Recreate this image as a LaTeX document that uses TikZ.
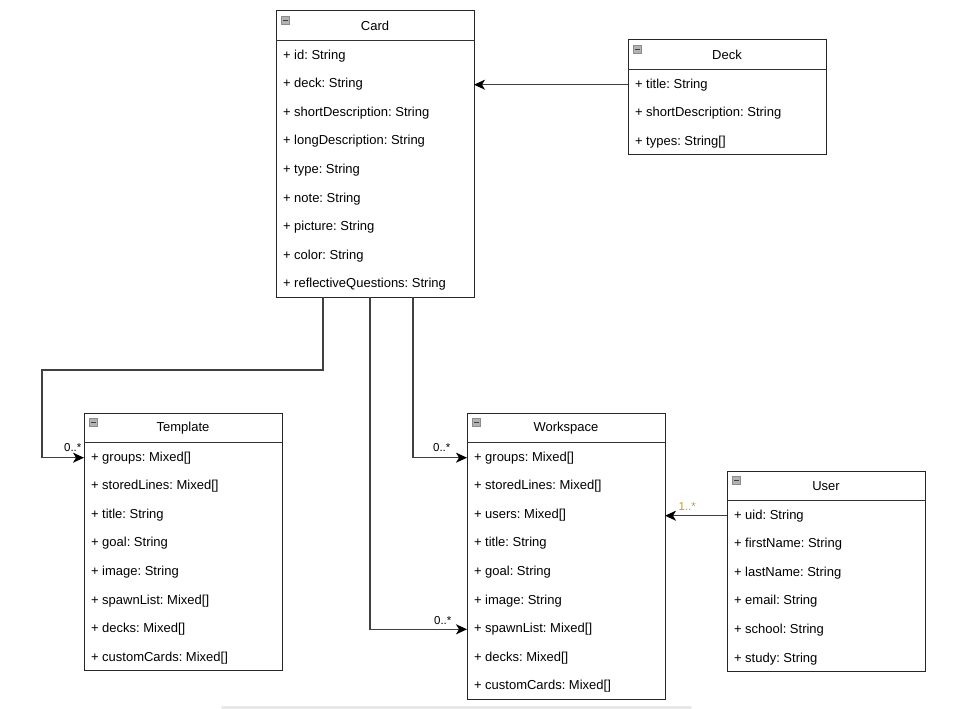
\documentclass[tikz,border=0pt]{standalone}
\usepackage{fontspec}
\setmainfont{Liberation Sans}
\usetikzlibrary{arrows.meta}
\definecolor{multorange}{HTML}{D79B00}
\frenchspacing

\begin{document}
\begin{tikzpicture}[x=1pt, y=1pt,
    classbox/.style ={draw=black!85, line width=1pt, anchor=north west, minimum width=198pt, inner sep=0pt, outer sep=0pt},
    classtitle/.style ={anchor=north, minimum width=198pt, minimum height=30pt, inner sep=0pt, font=\fontsize{13}{15}\selectfont},
    field/.style ={anchor=west, inner sep=0pt, font=\fontsize{13}{15}\selectfont},
    sep/.style ={draw=black!80, line width=1pt},
    icon/.style ={draw=black!45, fill=black!30, minimum size=8pt, inner sep=0pt,
        path picture={\draw[black!75, line width=1.4pt] ([xshift=1.5pt]path picture bounding box.west) -- ([xshift=-1.5pt]path picture bounding box.east);}},
    assoc/.style ={draw=black!75, line width=1.2pt, -{Stealth[length=11pt,width=10pt,inset=3pt,color=black]}},
    mult/.style ={inner sep=0pt, font=\fontsize{11.5}{13}\selectfont}]
   \useasboundingbox (0,0) rectangle (972,-709);
   % Card
   \node[classbox, minimum height=286pt] (card) at (276,-11) {};
   \node[classtitle] (card-title) at (card.north) {Card};
   \draw[sep] ([yshift=1pt]card-title.south west) -- ([yshift=1pt]card-title.south east);
   \node[icon] (card-icon) at ([xshift=9.5pt,yshift=-9.5pt]card.north west) {};
   \foreach \f [count=\i] in {id: String, deck: String, shortDescription: String, longDescription: String, type: String, note: String, picture: String, color: String, reflectiveQuestions: String}
      \node[field] (card-\i) at ([xshift=7pt,yshift={-14.3pt-28.6pt*(\i-1)}]card-title.south west) {+ \f};
   % Deck
   \node[classbox, minimum height=114.8pt] (deck) at (628,-40) {};
   \node[classtitle] (deck-title) at (deck.north) {Deck};
   \draw[sep] ([yshift=1pt]deck-title.south west) -- ([yshift=1pt]deck-title.south east);
   \node[icon] (deck-icon) at ([xshift=9.5pt,yshift=-9.5pt]deck.north west) {};
   \foreach \f [count=\i] in {title: String, shortDescription: String, types: String[]}
      \node[field] (deck-\i) at ([xshift=7pt,yshift={-14.3pt-28.6pt*(\i-1)}]deck-title.south west) {+ \f};
   % Template
   \node[classbox, minimum height=257.8pt] (template) at (84,-413) {};
   \node[classtitle] (template-title) at (template.north) {Template};
   \draw[sep] ([yshift=1pt]template-title.south west) -- ([yshift=1pt]template-title.south east);
   \node[icon] (template-icon) at ([xshift=9.5pt,yshift=-9.5pt]template.north west) {};
   \foreach \f [count=\i] in {groups: Mixed[], storedLines: Mixed[], title: String, goal: String, image: String, spawnList: Mixed[], decks: Mixed[], customCards: Mixed[]}
      \node[field] (template-\i) at ([xshift=7pt,yshift={-14.3pt-28.6pt*(\i-1)}]template-title.south west) {+ \f};
   % Workspace
   \node[classbox, minimum height=286.4pt] (workspace) at (467,-413) {};
   \node[classtitle] (workspace-title) at (workspace.north) {Workspace};
   \draw[sep] ([yshift=1pt]workspace-title.south west) -- ([yshift=1pt]workspace-title.south east);
   \node[icon] (workspace-icon) at ([xshift=9.5pt,yshift=-9.5pt]workspace.north west) {};
   \foreach \f [count=\i] in {groups: Mixed[], storedLines: Mixed[], users: Mixed[], title: String, goal: String, image: String, spawnList: Mixed[], decks: Mixed[], customCards: Mixed[]}
      \node[field] (workspace-\i) at ([xshift=7pt,yshift={-14.3pt-28.6pt*(\i-1)}]workspace-title.south west) {+ \f};
   % User
   \node[classbox, minimum height=200.6pt] (user) at (727,-471) {};
   \node[classtitle] (user-title) at (user.north) {User};
   \draw[sep] ([yshift=1pt]user-title.south west) -- ([yshift=1pt]user-title.south east);
   \node[icon] (user-icon) at ([xshift=9.5pt,yshift=-9.5pt]user.north west) {};
   \foreach \f [count=\i] in {uid: String, firstName: String, lastName: String, email: String, school: String, study: String}
      \node[field] (user-\i) at ([xshift=7pt,yshift={-14.3pt-28.6pt*(\i-1)}]user-title.south west) {+ \f};
   % associations
   \draw[assoc] (deck.west |- deck-1) -- (card.east |- deck-1);
   \draw[assoc] ([xshift=-52pt]card.south) -- ++(0,-73) -- ++(-281,0) |- (template.west |- template-1)
      node[mult, anchor=south east, xshift=-2pt, yshift=5pt] (template-mult) {0..*};
   \draw[assoc] ([xshift=38pt]card.south) |- (workspace.west |- workspace-1)
      node[mult, anchor=south east, xshift=-16pt, yshift=5pt] (groups-mult) {0..*};
   \draw[assoc] ([xshift=-5pt]card.south) |- (workspace.west |- workspace-7)
      node[mult, anchor=south east, xshift=-15pt, yshift=4pt] (spawn-mult) {0..*};
   \draw[assoc] (user.west |- user-1) -- (workspace.east |- user-1)
      node[mult, anchor=south west, xshift=13pt, yshift=5pt, text=multorange] (user-mult) {1..*};
   \fill[black!9, rounded corners=1.5pt] (221,-706) rectangle (692,-709);
 \end{tikzpicture}
\end{document}
